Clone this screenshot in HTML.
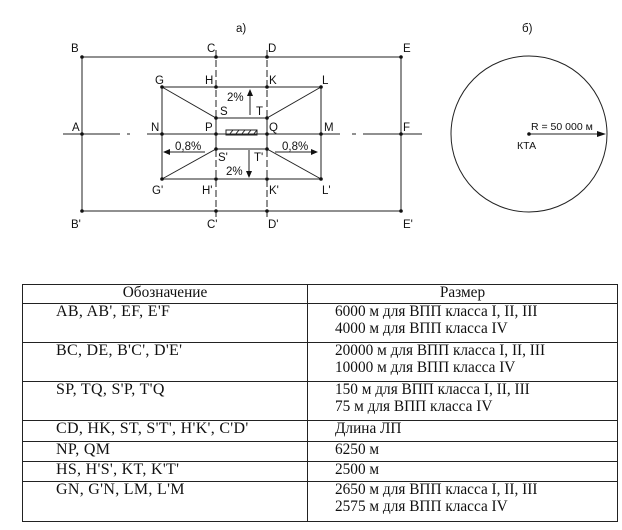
<!DOCTYPE html>
<html><head><meta charset="utf-8"><style>
body{margin:0;width:622px;height:530px;background:#fff;overflow:hidden;position:relative}
svg{position:absolute;left:0;top:0}
table{position:absolute;left:22px;top:284px;width:596px;border-collapse:collapse;table-layout:fixed;font-family:"Liberation Serif",serif;font-size:15.3px;color:#111}
td{border:1px solid #222;padding:0;vertical-align:top;line-height:16.5px;box-sizing:border-box;white-space:nowrap;overflow:hidden}
td.l{padding-left:33px;font-size:16px;letter-spacing:0.3px}
td.r{padding-left:27px}
</style></head><body>
<svg width="622" height="280" font-family="Liberation Sans, sans-serif" font-size="11.5" fill="#111">
<g stroke="#222" stroke-width="1" fill="none">
<rect x="82" y="57" width="319" height="154"/>
<line x1="63" y1="134" x2="120" y2="134"/><line x1="127" y1="134" x2="130" y2="134"/>
<line x1="147" y1="134" x2="340" y2="134"/><line x1="352" y1="134" x2="356" y2="134"/>
<line x1="363" y1="134" x2="422" y2="134"/>
<line x1="216" y1="50" x2="216" y2="218" stroke-dasharray="7,3"/>
<line x1="267" y1="50" x2="267" y2="218" stroke-dasharray="7,3"/>
<polygon points="162,87 321,87 321,179 162,179"/>
<polyline points="162,87 216,118 267,118 321,87"/>
<polyline points="162,179 216,149 267,149 321,179"/>
<line x1="216" y1="118" x2="216" y2="149"/><line x1="267" y1="118" x2="267" y2="149"/>
<rect x="226" y="130" width="31" height="5"/>
<path d="M229 135l4-5M235 135l4-5M241 135l4-5M247 135l4-5M253 135l4-5"/>
<line x1="250" y1="115" x2="250" y2="95"/><line x1="249" y1="150" x2="249" y2="172"/>
<line x1="205" y1="152" x2="170" y2="152"/><line x1="275" y1="152" x2="311" y2="152"/>
<circle cx="529" cy="134" r="78"/>
<line x1="529" y1="134" x2="598" y2="134"/>
</g>
<g fill="#111">
<path d="M250 89l-3 7h6z M249 178l-3-7h6z M163 152l7-3v6z M318 152l-7-3v6z M606 134l-9-3v6z"/>
<g>
<circle cx="82" cy="57" r="1.8"/><circle cx="216" cy="57" r="1.8"/><circle cx="267" cy="57" r="1.8"/><circle cx="401" cy="57" r="1.8"/>
<circle cx="82" cy="134" r="1.8"/><circle cx="401" cy="134" r="1.8"/>
<circle cx="82" cy="211" r="1.8"/><circle cx="216" cy="211" r="1.8"/><circle cx="267" cy="211" r="1.8"/><circle cx="401" cy="211" r="1.8"/>
<circle cx="162" cy="87" r="1.8"/><circle cx="216" cy="87" r="1.8"/><circle cx="267" cy="87" r="1.8"/><circle cx="321" cy="87" r="1.8"/>
<circle cx="216" cy="118" r="1.8"/><circle cx="267" cy="118" r="1.8"/>
<circle cx="162" cy="134" r="1.8"/><circle cx="216" cy="134" r="1.8"/><circle cx="267" cy="134" r="1.8"/><circle cx="321" cy="134" r="1.8"/>
<circle cx="216" cy="149" r="1.8"/><circle cx="267" cy="149" r="1.8"/>
<circle cx="162" cy="179" r="1.8"/><circle cx="216" cy="179" r="1.8"/><circle cx="267" cy="179" r="1.8"/><circle cx="321" cy="179" r="1.8"/>
<circle cx="529" cy="134" r="1.8"/>
</g>
<text x="236" y="32">а)</text><text x="522" y="32">б)</text>
<text x="71" y="52">B</text><text x="207" y="52">C</text><text x="268" y="52">D</text><text x="403" y="52">E</text>
<text x="155" y="84">G</text><text x="205" y="84">H</text><text x="269" y="84">K</text><text x="322" y="84">L</text>
<text x="227" y="101">2%</text><text x="220" y="115">S</text><text x="256" y="115">T</text>
<text x="72" y="131">A</text><text x="151" y="131">N</text><text x="205" y="131">P</text><text x="269" y="131">Q</text><text x="324" y="131">M</text><text x="403" y="131">F</text>
<text x="175" y="150">0,8%</text><text x="282" y="150">0,8%</text>
<text x="218" y="161">S'</text><text x="254" y="161">T'</text><text x="226" y="175">2%</text>
<text x="152" y="194">G'</text><text x="202" y="194">H'</text><text x="269" y="194">K'</text><text x="322" y="194">L'</text>
<text x="71" y="228">B'</text><text x="207" y="228">C'</text><text x="268" y="228">D'</text><text x="403" y="228">E'</text>
<text x="531" y="130" font-size="10.5">R = 50 000 м</text>
<text x="517" y="149" font-size="10.5">КТА</text>
</g>
</svg>
<table>
<colgroup><col style="width:285px"><col></colgroup>
<tr style="height:19px"><td class="l" style="padding-left:0;text-align:center;letter-spacing:0;font-size:15.3px">Обозначение</td><td style="text-align:center">Размер</td></tr>
<tr style="height:39px"><td class="l">AB, AB', EF, E'F</td><td class="r">6000 м для ВПП класса I, II, III<br>4000 м для ВПП класса IV</td></tr>
<tr style="height:39px"><td class="l">BC, DE, B'C', D'E'</td><td class="r">20000 м для ВПП класса I, II, III<br>10000 м для ВПП класса IV</td></tr>
<tr style="height:39px"><td class="l">SP, TQ, S'P, T'Q</td><td class="r">150 м для ВПП класса I, II, III<br>75 м для ВПП класса IV</td></tr>
<tr style="height:21px"><td class="l">CD, HK, ST, S'T', H'K', C'D'</td><td class="r">Длина ЛП</td></tr>
<tr style="height:20px"><td class="l">NP, QM</td><td class="r">6250 м</td></tr>
<tr style="height:20px"><td class="l">HS, H'S', KT, K'T'</td><td class="r">2500 м</td></tr>
<tr style="height:40px"><td class="l">GN, G'N, LM, L'M</td><td class="r">2650 м для ВПП класса I, II, III<br>2575 м для ВПП класса IV</td></tr>
</table>
</body></html>
